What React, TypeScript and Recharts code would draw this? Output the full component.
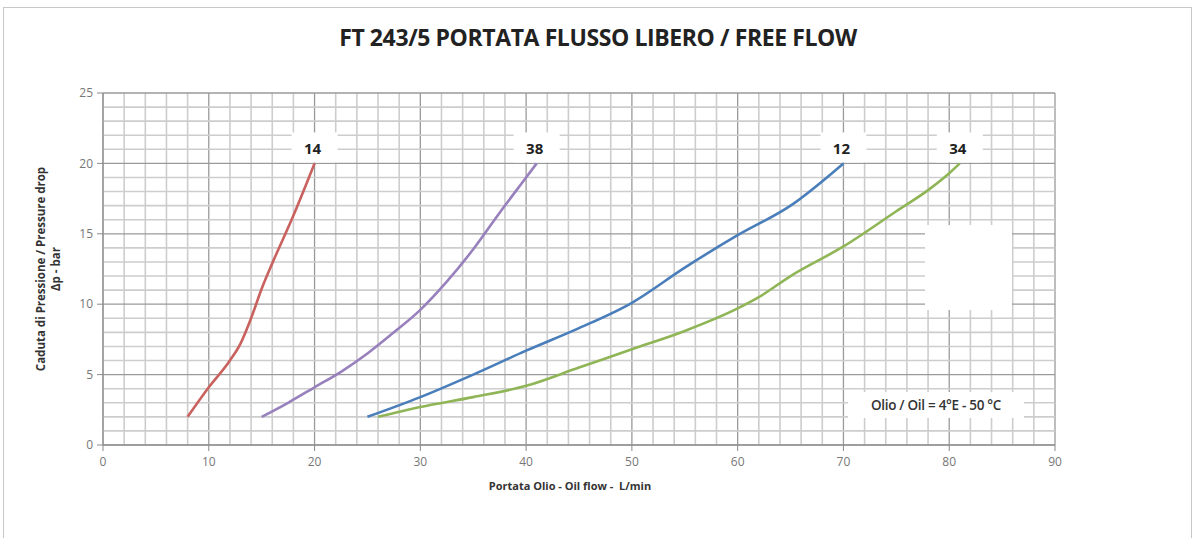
import React from 'react';
import {
  LineChart,
  Line,
  XAxis,
  YAxis,
  ReferenceLine,
  LabelList
} from 'recharts';

// flow L/min vs pressure drop bar
const flow14 = [8, 10, 12, 13, 14, 15, 16, 18, 20];
const drop14 = [2, 4.1, 6, 7.2, 9, 11.1, 12.9, 16.3, 20];

const flow38 = [15, 17.5, 20, 22.5, 25, 27.5, 30, 32.5, 35, 37.5, 40, 41];
const drop38 = [2, 3, 4.1, 5.2, 6.5, 8, 9.6, 11.6, 13.9, 16.5, 19, 20];

const flow12 = [25, 30, 35, 40, 45, 50, 55, 60, 65, 70];
const drop12 = [2, 3.4, 5, 6.7, 8.3, 10.1, 12.6, 14.9, 17, 20];

const flow34 = [26, 30, 35, 40, 45, 50, 55, 60, 62, 65, 70, 75, 78, 80, 81];
const drop34 = [2, 2.7, 3.4, 4.2, 5.5, 6.8, 8.1, 9.7, 10.5, 12, 14.1, 16.6, 18.1, 19.3, 20];

const xTicks = [0, 10, 20, 30, 40, 50, 60, 70, 80, 90];
const yTicks = [0, 5, 10, 15, 20, 25];
const xGrid = Array.from({ length: 46 }, (_, i) => i * 2);
const yGrid = Array.from({ length: 26 }, (_, i) => i);

const toPoints = (xs: number[], ys: number[]) => xs.map((x, i) => ({ x, y: ys[i] }));

const series = [
  { name: '14', color: '#c9625e', data: toPoints(flow14, drop14) },
  { name: '38', color: '#9880bd', data: toPoints(flow38, drop38) },
  { name: '12', color: '#4a7ebb', data: toPoints(flow12, drop12) },
  { name: '34', color: '#8fb556', data: toPoints(flow34, drop34) }
];

const font = '"Open Sans", "DejaVu Sans", sans-serif';

function EndTag(props: any, name: string, last: number) {
  const { x, y, index } = props;
  if (index !== last) return null;
  return (
    <g>
      <rect x={x - 23} y={y - 31} width={46} height={30} fill="#fff" />
      <text
        x={x - 2}
        y={y - 15}
        textAnchor="middle"
        dominantBaseline="central"
        fontFamily={font}
        fontWeight={700}
        fontSize={15}
        fill="#222"
      >
        {name}
      </text>
    </g>
  );
}

export default function App() {
  return (
    <div style={{ position: 'absolute', left: 0, top: 0, width: 1196, height: 538, background: '#fff', overflow: 'hidden' }}>
      <div style={{ position: 'absolute', left: 3, top: 7, width: 1187, height: 560, border: '1px solid #c8c8c8' }} />
      <div
        style={{
          position: 'absolute', left: 0, top: 21, width: 1196, textAlign: 'center',
          fontFamily: font, fontWeight: 700, fontSize: 23, color: '#222', letterSpacing: -0.4
        }}
      >
        FT 243/5 PORTATA FLUSSO LIBERO / FREE FLOW
      </div>
      <LineChart
        width={1196}
        height={538}
        margin={{ top: 93, right: 141, bottom: 0, left: 0 }}
        style={{ position: 'absolute', left: 0, top: 0 }}
      >
        {xGrid.map((v) => (
          <ReferenceLine key={'vx' + v} x={v} stroke={v % 10 === 0 ? '#9a9a9a' : '#cdcdcd'} strokeWidth={v % 10 === 0 ? 1.3 : 1.6} />
        ))}
        {yGrid.map((v) => (
          <ReferenceLine key={'hy' + v} y={v} stroke={v % 5 === 0 ? '#9a9a9a' : '#cdcdcd'} strokeWidth={v % 5 === 0 ? 1.3 : 1.6} />
        ))}
        <XAxis
          type="number"
          dataKey="x"
          domain={[0, 90]}
          ticks={xTicks}
          allowDataOverflow
          height={93}
          stroke="#8a8a8a"
          tickSize={6}
          tickMargin={6}
          tick={{ fill: '#777', fontSize: 12, fontFamily: font }}
        />
        <YAxis
          type="number"
          domain={[0, 25]}
          ticks={yTicks}
          width={103}
          stroke="#8a8a8a"
          tickSize={6}
          tickMargin={4}
          tick={{ fill: '#777', fontSize: 12, fontFamily: font }}
        />
        {series.map((s) => (
          <Line
            key={s.name}
            data={s.data}
            dataKey="y"
            type="monotone"
            stroke={s.color}
            strokeWidth={2.6}
            dot={false}
            isAnimationActive={false}
          >
            <LabelList dataKey="y" content={(p: any) => EndTag(p, s.name, s.data.length - 1)} />
          </Line>
        ))}
      </LineChart>
      <div style={{ position: 'absolute', left: 925, top: 225, width: 87, height: 85, background: '#fff' }} />
      <div
        style={{
          position: 'absolute', left: 848, top: 392, width: 176, height: 26, background: '#fff',
          textAlign: 'center', lineHeight: '26px', fontFamily: font, fontWeight: 600, fontSize: 13.5,
          color: '#333', letterSpacing: -0.3
        }}
      >
        Olio / Oil = 4°E - 50 °C
      </div>
      <div
        style={{
          position: 'absolute', left: 470, top: 478, width: 200, textAlign: 'center',
          fontFamily: font, fontWeight: 700, fontSize: 11, color: '#333', whiteSpace: 'pre'
        }}
      >
        {'Portata Olio - Oil flow -  L/min'}
      </div>
      <div
        style={{
          position: 'absolute', left: 48 - 150, top: 270 - 16, width: 300, textAlign: 'center',
          transform: 'rotate(-90deg)', fontFamily: font, fontWeight: 700, fontSize: 11.5,
          color: '#333', lineHeight: '15px'
        }}
      >
        Caduta di Pressione / Pressure drop
        <br />
        Δp - bar
      </div>
    </div>
  );
}
